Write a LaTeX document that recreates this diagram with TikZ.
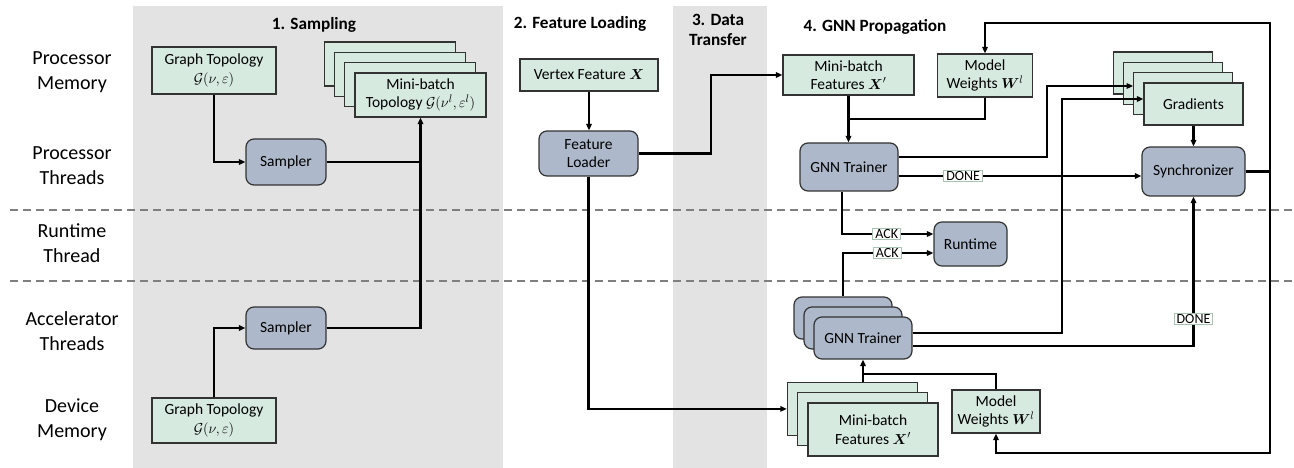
\documentclass[tikz,border=0pt]{standalone}
\usepackage{amsmath,amssymb}
\usepackage{fontspec}
\setmainfont{Carlito}
\usetikzlibrary{arrows.meta,calc}
\definecolor{mint}{HTML}{D6EAE0}
\definecolor{bluegray}{HTML}{ADB9CA}
\definecolor{band}{HTML}{E3E3E3}
\definecolor{dashgray}{HTML}{7F7F7F}
\definecolor{lblborder}{HTML}{A8C3B4}
\begin{document}
\begin{tikzpicture}[x=1pt,y=-1pt,
  gbox/.style={draw=black!80, fill=mint, line width=1.2pt, inner sep=0pt, align=center,
    font=\fontsize{15.5}{18.5}\selectfont},
  pbox/.style={gbox, fill=bluegray, rounded corners=8pt},
  lbl/.style={draw=lblborder, fill=white, line width=1.1pt, inner xsep=2.5pt, inner ysep=1.2pt,
    font=\fontsize{14}{14}\selectfont},
  conn/.style={line width=2.2pt, black},
  arr/.style={conn, -{Triangle[length=6.5pt,width=5.5pt]}},
  lane/.style={align=center, font=\fontsize{20}{25}\selectfont},
  ttl/.style={align=center, font=\bfseries\fontsize{17.2}{20}\selectfont},
  sepline/.style={dashgray, line width=2pt, dash pattern=on 8pt off 5pt}
]
\useasboundingbox (0,0) rectangle (1294,468);
% background bands
\fill[band] (133,6) rectangle (503,468);
\fill[band] (673,6) rectangle (767,468);
% separators
\draw[sepline] (10,210) -- (1294,210);
\draw[sepline] (10,281) -- (1294,281);

% lane labels
\node[lane] (l1) at (72,72.5) {Processor\\Memory};
\node[lane] (l2) at (72,166) {Processor\\Threads};
\node[lane] (l3) at (72,243) {Runtime\\Thread};
\node[lane] (l4) at (72,331) {Accelerator\\Threads};
\node[lane] (l5) at (72,420) {Device\\Memory};

% titles
\node[ttl] (t1) at (314,25) {1. Sampling};
\node[ttl] (t2) at (580,24) {2. Feature Loading};
\node[ttl] (t3) at (718,30) {3. Data\\Transfer};
\node[ttl] (t4) at (875,27) {4. GNN Propagation};

% sampling
\node[gbox, minimum width=124pt, minimum height=47pt] (gtA) at (214,70.5) {Graph Topology\\$\mathcal{G}(\nu,\varepsilon)$};
\node[pbox, minimum width=80pt, minimum height=46pt] (smpA) at (286,162) {Sampler};
\node[pbox, minimum width=80pt, minimum height=42pt] (smpB) at (286,328) {Sampler};
\node[gbox, minimum width=124pt, minimum height=45pt] (gtB) at (214,420.5) {Graph Topology\\$\mathcal{G}(\nu,\varepsilon)$};
\node[gbox, minimum width=131pt, minimum height=44pt] (mbt3) at (389.6,64.1) {};
\node[gbox, minimum width=131pt, minimum height=44pt] (mbt2) at (399.9,74.4) {};
\node[gbox, minimum width=131pt, minimum height=44pt] (mbt1) at (410.2,84.7) {};
\node[gbox, minimum width=131pt, minimum height=44pt] (mbt) at (420.5,95) {Mini-batch\\Topology $\mathcal{G}(\nu^l,\varepsilon^l)$};

% feature loading
\node[gbox, minimum width=138pt, minimum height=32pt] (vf) at (589,75) {Vertex Feature $\boldsymbol{X}$};
\node[pbox, minimum width=99pt, minimum height=45pt] (fl) at (588.5,153.5) {Feature\\Loader};

% GNN propagation (processor)
\node[gbox, minimum width=131pt, minimum height=40pt] (mbfA) at (848.5,75) {Mini-batch\\Features $\boldsymbol{X}'$};
\node[gbox, minimum width=95pt, minimum height=43pt] (mwA) at (985,75.5) {Model\\Weights $\boldsymbol{W}^l$};
\node[pbox, minimum width=98pt, minimum height=48pt] (gnnA) at (849,167) {GNN Trainer};
\node[gbox, minimum width=99pt, minimum height=42pt] (grad3) at (1162.6,73.1) {};
\node[gbox, minimum width=99pt, minimum height=42pt] (grad2) at (1172.9,83.4) {};
\node[gbox, minimum width=99pt, minimum height=42pt] (grad1) at (1183.2,93.7) {};
\node[gbox, minimum width=99pt, minimum height=42pt] (grad) at (1193.5,104) {Gradients};
\node[pbox, minimum width=103pt, minimum height=49pt] (sync) at (1193.5,171.5) {Synchronizer};
\node[pbox, minimum width=73pt, minimum height=44pt] (rt) at (970.5,244) {Runtime};

% GNN propagation (accelerator)
\node[pbox, minimum width=98pt, minimum height=42pt] (gnnB2) at (843,318) {};
\node[pbox, minimum width=98pt, minimum height=42pt] (gnnB1) at (853,328) {};
\node[pbox, minimum width=98pt, minimum height=42pt] (gnnB) at (863,338) {GNN Trainer};
\node[gbox, minimum width=130pt, minimum height=53pt] (mbfB2) at (852.4,408.9) {};
\node[gbox, minimum width=130pt, minimum height=53pt] (mbfB1) at (862.7,419.2) {};
\node[gbox, minimum width=130pt, minimum height=53pt] (mbfB) at (873,429.5) {Mini-batch\\Features $\boldsymbol{X}'$};
\node[gbox, minimum width=88pt, minimum height=43pt] (mwB) at (996,411.5) {Model\\Weights $\boldsymbol{W}^l$};

% helper coordinates
\coordinate (dt) at (711,0);
\coordinate (gx1) at (1047,86);
\coordinate (gx2) at (1062,99);
\coordinate (loopTR) at (1270,23);
\coordinate (loopBR) at (1270,453);
\coordinate (j1) at (848.5,119);
\coordinate (j2) at (863,374);

% sampling connectors
\draw[arr] (gtA.south) |- (smpA.west);
\draw[arr] (gtB.north) |- (smpB.west);
\draw[arr] (smpB.east) -| (mbt.south);
\draw[conn] (smpA.east) -- (smpA.east -| mbt.south);

% feature loading connectors
\draw[arr] (vf.south) -- (vf.south |- fl.north);
\draw[arr] (fl.east) -- (fl.east -| dt) |- (mbfA.west);
\draw[arr] (fl.south) |- (mbfB2.west);

% processor side
\draw[arr] (mbfA.south) -- (mbfA.south |- gnnA.north);
\draw[conn] (mwA.south) |- (j1);
\draw[arr] ([yshift=10pt]gnnA.east) -| (gx1) -- (gx1 -| grad1.west);
\draw[arr] ([yshift=-9pt]gnnA.east) -- ([yshift=-9pt]gnnA.east -| sync.west)
  node[lbl, pos=0.266] {DONE};
\draw[arr] (grad.south) -- (sync.north);
\draw[arr] (sync.east) -| (loopTR) -| (mwA.north);
\draw[arr] (sync.east -| loopBR) -- (loopBR) -| (mwB.south);

% runtime
\draw[arr] ([xshift=-7pt]gnnA.south) |- ([yshift=10pt]rt.west) node[lbl, pos=0.745] {ACK};
\draw[arr] (gnnB2.north) |- ([yshift=-9pt]rt.west) node[lbl, pos=0.745] {ACK};

% accelerator side
\draw[arr] ([yshift=5pt]gnnB.east) -| (gx2) -- ([yshift=5pt]grad.west);
\draw[arr] ([yshift=-8pt]gnnB.east) -| (sync.south) node[lbl, pos=0.59] {DONE};
\draw[arr] (gnnB.south |- mbfB2.north) -- (gnnB.south);
\draw[conn] (mwB.north) |- (j2);
\end{tikzpicture}
\end{document}
